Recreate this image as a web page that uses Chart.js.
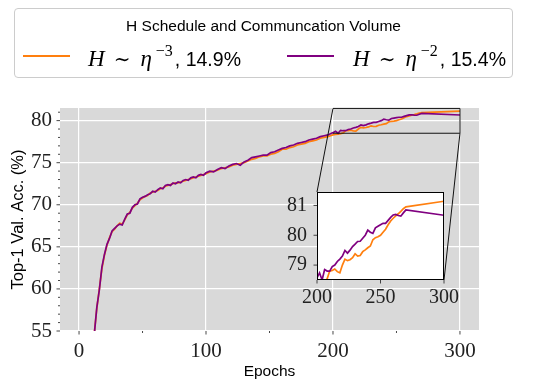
<!DOCTYPE html>
<html>
<head>
<meta charset="utf-8">
<script src="https://cdn.jsdelivr.net/npm/chart.js@4.4.1/dist/chart.umd.min.js"></script>
<style>
html,body{margin:0;padding:0;background:#fff;overflow:hidden;}
#wrap{position:relative;width:533px;height:389px;}
canvas{position:absolute;}
#legend{position:absolute;left:14px;top:8px;width:499px;height:70px;box-sizing:border-box;border:1px solid #cccccc;border-radius:4px;background:#fff;color:#000;}
#ltitle{position:absolute;left:0;right:0;top:9px;text-align:center;font:15.5px/15.5px 'Liberation Sans',sans-serif;}
.lline{position:absolute;top:46px;width:47px;height:2px;}
.ltext{position:absolute;top:40px;font:19.5px/19.5px 'Liberation Sans',sans-serif;white-space:nowrap;}
.m{font-family:'Liberation Serif',serif;font-style:italic;font-size:23px;}
.op{font-family:'DejaVu Serif',serif;font-size:20px;}
.sp{font-family:'Liberation Serif',serif;font-size:16px;position:relative;top:-10px;}
</style>
</head>
<body>
<div id="wrap">
<canvas id="main" width="533" height="389" style="left:0;top:0;width:533px;height:389px"></canvas>
<canvas id="inset" width="190" height="130" style="left:270px;top:185px;width:190px;height:130px"></canvas>
<div id="legend">
  <div id="ltitle">H Schedule and Communcation Volume</div>
  <div class="lline" style="left:8px;background:#ff7f0e"></div>
  <div class="ltext" style="left:73px"><span class="m">H</span><span class="op" style="margin-left:9px">∼</span><span class="m" style="margin-left:10px">η</span><span class="sp" style="margin-left:4px">−3</span><span style="margin-left:2px">, 14.9%</span></div>
  <div class="lline" style="left:272px;background:#800080"></div>
  <div class="ltext" style="left:338px"><span class="m">H</span><span class="op" style="margin-left:9px">∼</span><span class="m" style="margin-left:10px">η</span><span class="sp" style="margin-left:4px">−2</span><span style="margin-left:2px">, 15.4%</span></div>
</div>
</div>
<script>
// ---------------- data ----------------
const epochs = [0,3,6,9,12,
14,16,18,20,22,24,26,28,30,32,34,36,38,40,42,44,46,48,50,52,54,56,58,60,62,64,66,68,70,72,74,76,78,80,82,84,86,88,90,92,94,96,98,100,
103,106,109,112,115,118,121,124,127,130,133,136,139,142,145,148,151,154,157,160,163,166,169,172,175,178,181,184,187,190,193,196,
198,
200,202,204,206,208,210,212,214,216,218,220,222,224,226,228,230,232,234,236,238,240,242,244,246,248,250,252,254,256,258,260,262,264,266,268,270,
300];

// H ~ eta^-3 (orange)
const accEtaM3 = [18.2,33.3,43.8,50.1,54.7,
57.7,60.0,62.4,64.0,65.2,66.1,66.8,67.1,67.5,67.8,
67.7,68.2,68.8,69.1,69.6,69.9,70.2,70.6,70.8,71.0,
71.1,71.4,71.5,71.6,71.7,71.9,72.0,72.2,72.3,72.4,
72.5,72.6,72.6,72.7,72.8,72.9,73.0,73.1,73.2,73.3,
73.4,73.5,73.6,73.7,
73.9,74.0,74.1,74.3,74.4,74.5,74.7,74.8,74.9,75.0,
75.2,75.4,75.5,75.7,75.8,75.8,76.0,76.1,76.3,76.6,
76.6,76.8,76.9,77.1,77.2,77.3,77.5,77.6,77.7,77.9,
78.0,78.1,
78.2,
78.3,78.35,78.4,78.45,78.54,78.8,78.82,78.87,78.78,78.74,
79.0,79.2,79.15,79.18,79.25,79.38,79.3,79.32,79.45,79.51,
79.58,79.64,79.85,79.92,79.95,80.0,80.1,80.2,80.35,80.48,
80.57,80.65,80.72,80.8,80.89,80.95,
81.14];

// H ~ eta^-2 (purple)
const accEtaM2 = [18.0,33.0,43.5,50.0,54.6,
57.8,59.9,62.6,64.1,65.3,66.0,66.9,67.2,67.5,67.7,
67.6,68.3,68.9,69.0,69.7,70.0,70.1,70.7,70.9,71.0,
71.2,71.3,71.6,71.5,71.8,72.0,71.9,72.3,72.4,72.3,
72.6,72.5,72.7,72.6,72.9,73.0,72.9,73.2,73.3,73.2,
73.5,73.6,73.5,73.8,
74.0,73.9,74.2,74.4,74.3,74.6,74.8,74.9,74.7,75.1,
75.3,75.6,75.7,75.8,75.9,75.9,76.2,76.3,76.5,76.7,
76.8,77.0,77.1,77.3,77.4,77.5,77.7,77.8,77.9,78.1,
78.2,78.3,
78.45,
78.57,78.74,78.5,78.85,78.8,78.8,78.95,79.0,79.12,79.2,
79.3,79.49,79.4,79.5,79.62,79.7,79.79,79.8,79.9,80.0,
80.17,80.1,80.06,80.25,80.3,80.35,80.4,80.4,80.5,80.6,
80.68,80.7,80.66,80.64,80.75,80.85,
80.67];

const seriesNames = ['H ~ eta^-3, 14.9%', 'H ~ eta^-2, 15.4%'];

// main axes ticks
const xMajorTicks = [0,100,200,300];
const xMinorTicks = [50,150,250];
const yMajorTicks = [55,60,65,70,75,80];
const yMinorTicks = [56,57,58,59,61,62,63,64,66,67,68,69,71,72,73,74,76,77,78,79,81];
const xRange = [-15,315];
const yRange = [55,81.5];

// inset axes
const insetXRange = [200,300];
const insetYRange = [78.5,81.45];
const insetXTicks = [200,250,300];
const insetYTicks = [79,80,81];

// ---------------- helpers ----------------
const ORANGE = '#ff7f0e', PURPLE = '#800080';
const tickCfg = {
  main: {xMajor: xMajorTicks, yMajor: yMajorTicks},
  inset: {xMajor: insetXTicks, yMajor: insetYTicks}
};
const tickMarks = {
  id: 'tickMarks',
  afterDraw(chart) {
    const cfg = tickCfg[chart.canvas.id];
    const ctx = chart.ctx, a = chart.chartArea;
    ctx.save();
    ctx.strokeStyle = '#333';
    ctx.lineWidth = 0.9;
    for (const t of chart.scales.x.ticks) {
      const p = chart.scales.x.getPixelForValue(t.value);
      const len = cfg.xMajor.includes(t.value) ? 3.5 : 2;
      ctx.beginPath(); ctx.moveTo(p, a.bottom); ctx.lineTo(p, a.bottom + len); ctx.stroke();
    }
    for (const t of chart.scales.y.ticks) {
      const p = chart.scales.y.getPixelForValue(t.value);
      const len = cfg.yMajor.includes(t.value) ? 3.5 : 2;
      ctx.beginPath(); ctx.moveTo(a.left, p); ctx.lineTo(a.left - len, p); ctx.stroke();
    }
    ctx.restore();
  }
};
const pts = (xs, ys) => xs.map((x, i) => ({x: x, y: ys[i]}));
const fixX = h => s => { s.height = h; s.paddingLeft = 0; s.paddingRight = 0; s.paddingTop = 0; s.paddingBottom = 0; };
const fixY = w => s => { s.width = w; s.paddingLeft = 0; s.paddingRight = 0; s.paddingTop = 0; s.paddingBottom = 0; };

// ---------------- inset chart ----------------
const insetBg = {
  id: 'insetBg',
  beforeDraw(chart) {
    const a = chart.chartArea, ctx = chart.ctx;
    ctx.save(); ctx.fillStyle = '#fff';
    ctx.fillRect(a.left, a.top, a.right - a.left, a.bottom - a.top);
    ctx.restore();
  },
  afterDraw(chart) {
    const a = chart.chartArea, ctx = chart.ctx;
    ctx.save(); ctx.strokeStyle = '#000'; ctx.lineWidth = 1;
    ctx.strokeRect(Math.round(a.left) + 0.5, Math.round(a.top) + 0.5, Math.round(a.right - a.left) - 1, Math.round(a.bottom - a.top) - 1);
    ctx.restore();
  }
};
const insetChart = new Chart(document.getElementById('inset'), {
  type: 'line',
  data: {
    datasets: [
      {label: seriesNames[0], data: pts(epochs, accEtaM3), borderColor: ORANGE, borderWidth: 1.7, pointRadius: 0, fill: false, order: 1, clip: 0},
      {label: seriesNames[1], data: pts(epochs, accEtaM2), borderColor: PURPLE, borderWidth: 1.7, pointRadius: 0, fill: false, order: 0, clip: 0}
    ]
  },
  options: {
    responsive: false, animation: false, devicePixelRatio: 1,
    layout: {padding: {top: 7, right: 16, left: 0, bottom: 0}},
    plugins: {legend: {display: false}, tooltip: {enabled: false}},
    scales: {
      x: {
        type: 'linear', min: insetXRange[0], max: insetXRange[1],
        afterBuildTicks: s => { s.ticks = insetXTicks.map(v => ({value: v})); },
        afterFit: fixX(35),
        grid: {display: false, drawTicks: false},
        border: {display: false},
        ticks: {padding: 6, autoSkip: false, maxRotation: 0, color: '#222', font: {family: 'Liberation Serif', size: 20}}
      },
      y: {
        type: 'linear', min: insetYRange[0], max: insetYRange[1],
        afterBuildTicks: s => { s.ticks = insetYTicks.map(v => ({value: v})); },
        afterFit: fixY(47),
        grid: {display: false, drawTicks: false},
        border: {display: false},
        ticks: {padding: 10, autoSkip: false, color: '#222', font: {family: 'Liberation Serif', size: 20}}
      }
    }
  },
  plugins: [insetBg, tickMarks]
});

// ---------------- main chart ----------------
const mainDecor = {
  id: 'mainDecor',
  beforeDraw(chart) {
    const a = chart.chartArea, ctx = chart.ctx;
    ctx.save(); ctx.fillStyle = '#d9d9d9';
    ctx.fillRect(a.left, a.top, a.right - a.left, a.bottom - a.top);
    ctx.restore();
  },
  afterDraw(chart) {
    const xs = chart.scales.x, ys = chart.scales.y, ctx = chart.ctx;
    const x0 = xs.getPixelForValue(insetXRange[0]), x1 = xs.getPixelForValue(insetXRange[1]);
    const yT = ys.getPixelForValue(insetYRange[1]), yB = ys.getPixelForValue(insetYRange[0]);
    ctx.save();
    ctx.strokeStyle = '#111'; ctx.lineWidth = 1;
    ctx.beginPath();
    ctx.moveTo(x0, yT); ctx.lineTo(x1, yT); ctx.lineTo(x1, yB); ctx.lineTo(x0, yB);
    ctx.stroke();
    if (insetChart) {
      const ic = insetChart.canvas, ia = insetChart.chartArea;
      const ox = ic.offsetLeft, oy = ic.offsetTop;
      ctx.beginPath(); ctx.moveTo(x0, yT); ctx.lineTo(ox + ia.left, oy + ia.top); ctx.stroke();
      ctx.beginPath(); ctx.moveTo(x1, yB); ctx.lineTo(ox + ia.right, oy + ia.bottom); ctx.stroke();
    }
    ctx.restore();
  }
};
const mainChart = new Chart(document.getElementById('main'), {
  type: 'line',
  data: {
    datasets: [
      {label: seriesNames[0], data: pts(epochs, accEtaM3), borderColor: ORANGE, borderWidth: 1.7, pointRadius: 0, fill: false, order: 1, clip: 0},
      {label: seriesNames[1], data: pts(epochs, accEtaM2), borderColor: PURPLE, borderWidth: 1.7, pointRadius: 0, fill: false, order: 0, clip: 0}
    ]
  },
  options: {
    responsive: false, animation: false, devicePixelRatio: 1,
    layout: {padding: {top: 108, right: 54, left: 0, bottom: 0}},
    plugins: {legend: {display: false}, tooltip: {enabled: false}},
    scales: {
      x: {
        type: 'linear', min: xRange[0], max: xRange[1],
        afterBuildTicks: s => { s.ticks = xMajorTicks.concat(xMinorTicks).sort((a, b) => a - b).map(v => ({value: v})); },
        afterFit: fixX(58),
        grid: {color: c => xMajorTicks.includes(c.tick && c.tick.value) ? '#ffffff' : 'rgba(0,0,0,0)', lineWidth: 1.2, drawTicks: false},
        border: {display: false},
        ticks: {padding: 8, autoSkip: false, maxRotation: 0, color: '#222', font: {family: 'Liberation Serif', size: 21},
                callback: v => xMajorTicks.includes(v) ? String(v) : ''},
        title: {display: true, text: 'Epochs', color: '#000', font: {family: 'Liberation Sans', size: 15.5}, padding: {top: 0, bottom: 8}}
      },
      y: {
        type: 'linear', min: yRange[0], max: yRange[1],
        afterBuildTicks: s => { s.ticks = yMajorTicks.concat(yMinorTicks).sort((a, b) => a - b).map(v => ({value: v})); },
        afterFit: fixY(60),
        grid: {color: c => yMajorTicks.includes(c.tick && c.tick.value) ? '#ffffff' : 'rgba(0,0,0,0)', lineWidth: 1.2, drawTicks: false},
        border: {display: false},
        ticks: {padding: 8, autoSkip: false, color: '#222', font: {family: 'Liberation Serif', size: 21},
                callback: v => yMajorTicks.includes(v) ? String(v) : ''},
        title: {display: true, text: 'Top-1 Val. Acc. (%)', color: '#000', font: {family: 'Liberation Sans', size: 16.5}, padding: {top: 8.5, bottom: 0}}
      }
    }
  },
  plugins: [mainDecor, tickMarks]
});
</script>
</body>
</html>
